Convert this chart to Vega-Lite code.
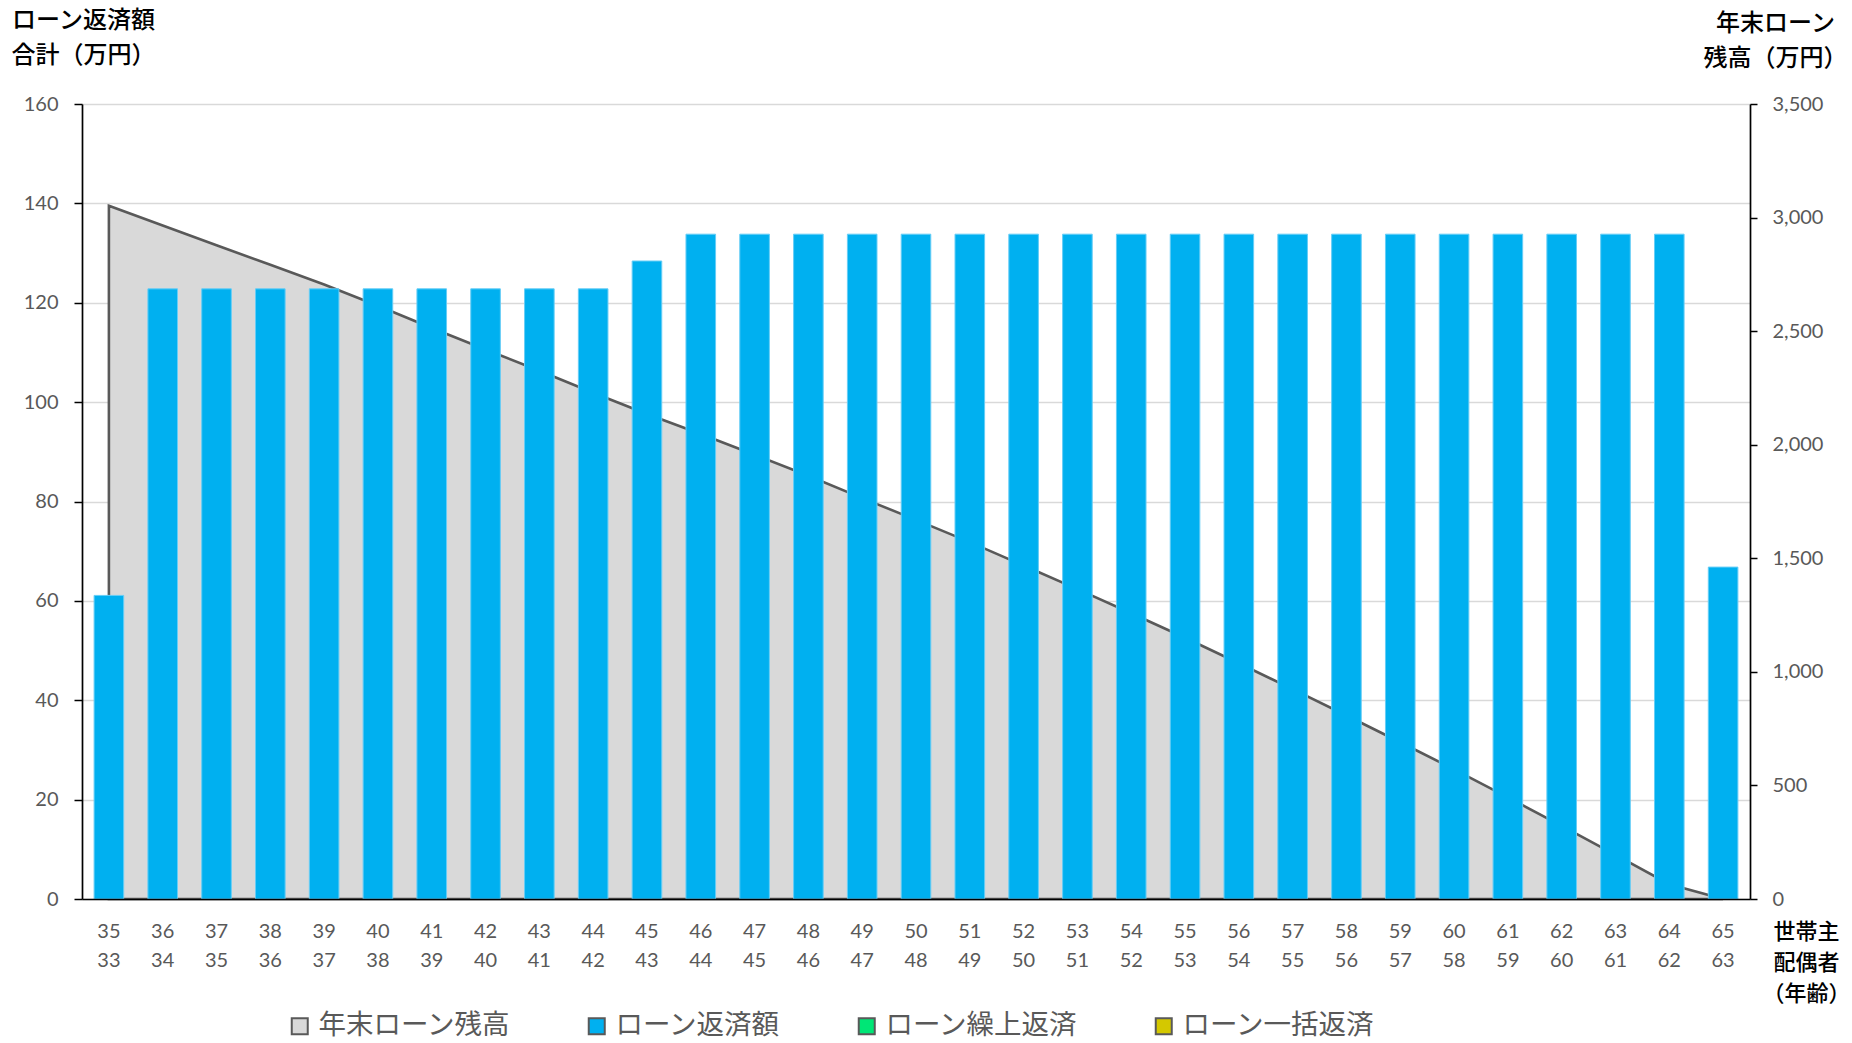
{
  "$schema": "https://vega.github.io/schema/vega-lite/v6.json",
  "width": 1668,
  "height": 795,
  "autosize": "none",
  "padding": {"left": 82, "top": 104, "right": 102, "bottom": 144},
  "background": "white",
  "config": {"view": {"stroke": null}, "font": "Lato"},
  "data": {"values": [
    {"x": "35/33", "pay": 61.1, "bal": 3052},
    {"x": "36/34", "pay": 122.8, "bal": 2965},
    {"x": "37/35", "pay": 122.8, "bal": 2878},
    {"x": "38/36", "pay": 122.8, "bal": 2792},
    {"x": "39/37", "pay": 122.8, "bal": 2705},
    {"x": "40/38", "pay": 122.8, "bal": 2612},
    {"x": "41/39", "pay": 122.8, "bal": 2514},
    {"x": "42/40", "pay": 122.8, "bal": 2419},
    {"x": "43/41", "pay": 122.8, "bal": 2326},
    {"x": "44/42", "pay": 122.8, "bal": 2229},
    {"x": "45/43", "pay": 128.4, "bal": 2135},
    {"x": "46/44", "pay": 133.8, "bal": 2047},
    {"x": "47/45", "pay": 133.8, "bal": 1956},
    {"x": "48/46", "pay": 133.8, "bal": 1863},
    {"x": "49/47", "pay": 133.8, "bal": 1765},
    {"x": "50/48", "pay": 133.8, "bal": 1669},
    {"x": "51/49", "pay": 133.8, "bal": 1571},
    {"x": "52/50", "pay": 133.8, "bal": 1468},
    {"x": "53/51", "pay": 133.8, "bal": 1364},
    {"x": "54/52", "pay": 133.8, "bal": 1258},
    {"x": "55/53", "pay": 133.8, "bal": 1150},
    {"x": "56/54", "pay": 133.8, "bal": 1038},
    {"x": "57/55", "pay": 133.8, "bal": 924},
    {"x": "58/56", "pay": 133.8, "bal": 808},
    {"x": "59/57", "pay": 133.8, "bal": 690},
    {"x": "60/58", "pay": 133.8, "bal": 571},
    {"x": "61/59", "pay": 133.8, "bal": 447},
    {"x": "62/60", "pay": 133.8, "bal": 322},
    {"x": "63/61", "pay": 133.8, "bal": 194},
    {"x": "64/62", "pay": 133.8, "bal": 65},
    {"x": "65/63", "pay": 66.8, "bal": 0}
  ]},
  "encoding": {
    "x": {
      "field": "x", "type": "nominal", "sort": null,
      "scale": {"paddingInner": 0.45, "paddingOuter": 0.225},
      "axis": {
        "title": ["世帯主", "配偶者", "（年齢）"],
        "titleX": 1724, "titleY": 22, "titleAlign": "center", "titleBaseline": "top", "titleAngle": 0,
        "titleFont": "Noto Sans CJK JP", "titleFontSize": 22, "titleFontWeight": 500, "titleColor": "#000000", "titleLineHeight": 31,
        "labelAngle": 0,
        "labelExpr": "[substring(datum.value, 0, 2), substring(datum.value, 3, 5)]",
        "labelFont": "Lato", "labelFontSize": 20, "labelColor": "#595959", "labelLineHeight": 29,
        "labelBaseline": "top", "labelPadding": 22, "labelOverlap": false,
        "ticks": false, "domainColor": "#000000", "domainWidth": 1.7, "zindex": 1
      }
    }
  },
  "layer": [
    {
      "mark": {"type": "area", "stroke": "#595959", "strokeWidth": 2.6, "opacity": 1, "interpolate": "linear"},
      "encoding": {
        "y": {
          "field": "bal", "type": "quantitative",
          "scale": {"domain": [0, 3500], "nice": false},
          "axis": {
            "orient": "right", "values": [0, 500, 1000, 1500, 2000, 2500, 3000, 3500], "format": ",.0f",
            "title": ["年末ローン", "残高（万円）"],
            "titleAngle": 0, "titleX": 25, "titleY": -93, "titleAlign": "center", "titleBaseline": "top",
            "titleFont": "Noto Sans CJK JP", "titleFontSize": 24, "titleFontWeight": 500, "titleColor": "#000000", "titleLineHeight": 35,
            "labelFont": "Lato", "labelFontSize": 20, "labelColor": "#595959", "labelPadding": 15,
            "tickSize": 7, "tickColor": "#000000", "tickWidth": 1.5,
            "domainColor": "#000000", "domainWidth": 1.7, "grid": false
          }
        },
        "color": {
          "datum": "年末ローン残高",
          "scale": {
            "domain": ["年末ローン残高", "ローン返済額", "ローン繰上返済", "ローン一括返済"],
            "range": ["#D9D9D9", "#00B0F0", "#00E676", "#D4C800"]
          },
          "legend": {
            "orient": "none", "legendX": 204, "legendY": 908, "direction": "horizontal",
            "title": null, "symbolType": "square", "symbolSize": 256, "symbolStrokeWidth": 2,
            "labelFont": "Noto Sans CJK JP", "labelFontSize": 27.5, "labelColor": "#595959",
            "labelOffset": 5, "columnPadding": 72, "labelLimit": 0,
            "encode": {"symbols": {"update": {
              "stroke": {"signal": "datum.value === '年末ローン残高' ? '#595959' : 'transparent'"},
              "strokeWidth": {"value": 2},
              "opacity": {"value": 1}
            }}}
          }
        }
      }
    },
    {
      "mark": {"type": "bar", "stroke": "#66CDF6", "strokeWidth": 1},
      "encoding": {
        "y": {
          "field": "pay", "type": "quantitative",
          "scale": {"domain": [0, 160], "nice": false},
          "axis": {
            "orient": "left", "values": [0, 20, 40, 60, 80, 100, 120, 140, 160],
            "title": ["ローン返済額", "合計（万円）"],
            "titleAngle": 0, "titleX": 1, "titleY": -96, "titleAlign": "center", "titleBaseline": "top",
            "titleFont": "Noto Sans CJK JP", "titleFontSize": 24, "titleFontWeight": 500, "titleColor": "#000000", "titleLineHeight": 35,
            "labelFont": "Lato", "labelFontSize": 20, "labelColor": "#595959", "labelPadding": 16,
            "tickSize": 8, "tickColor": "#000000", "tickWidth": 1.5,
            "domainColor": "#000000", "domainWidth": 1.7,
            "grid": true, "gridColor": "#D9D9D9", "gridWidth": 1.3
          }
        },
        "color": {"datum": "ローン返済額"}
      }
    }
  ],
  "resolve": {"scale": {"y": "independent"}}
}
